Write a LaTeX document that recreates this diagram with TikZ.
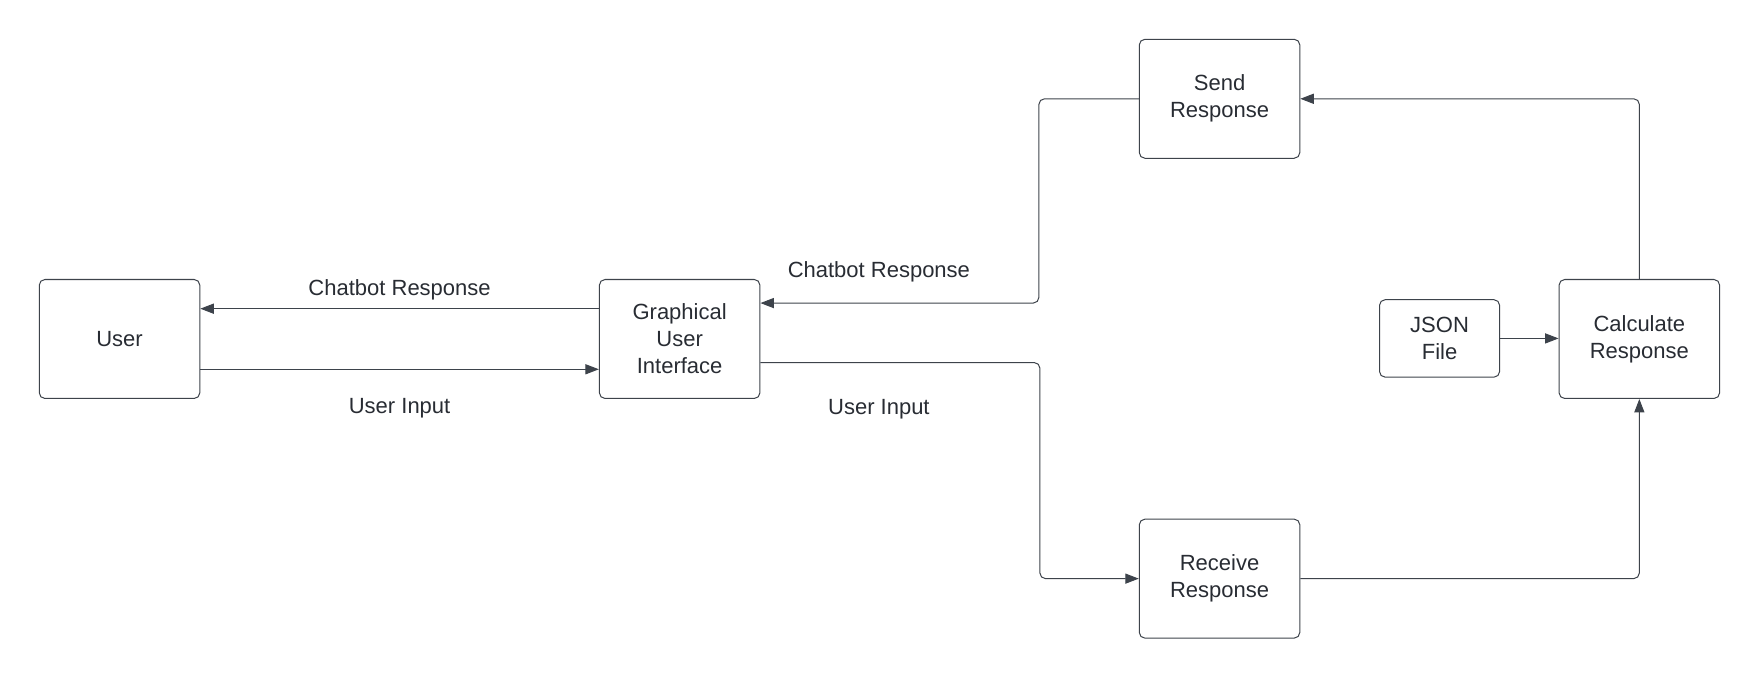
\documentclass[tikz,border=0pt]{standalone}
\usepackage{fontspec}
\setmainfont{Liberation Sans}
\usetikzlibrary{arrows.meta}
\definecolor{linegray}{HTML}{3D434B}
\definecolor{textgray}{HTML}{282C33}
\begin{document}
\begin{tikzpicture}[x=1pt,y=-1pt,
    box/.style={draw=linegray,line width=0.9pt,rounded corners=5pt,
        minimum width=143pt,minimum height=106pt,align=center,
        text=textgray,font=\fontsize{19.6}{24}\selectfont},
    smallbox/.style={box,minimum width=107pt,minimum height=69pt},
    lbl/.style={text=textgray,font=\fontsize{19.6}{24}\selectfont},
    conn/.style={draw=linegray,line width=0.9pt,rounded corners=5pt,
        -{Triangle[length=12pt,width=9pt]}}]
    \useasboundingbox (0,0) rectangle (1568,605.8);
    %% Boxes
    \node[box] (user) at (106.5,302) {User};
    \node[box] (gui) at (605.5,302) {Graphical\\User\\Interface};
    \node[box] (send) at (1086.5,88) {Send\\Response};
    \node[box] (recv) at (1086.5,515.5) {Receive\\Response};
    \node[smallbox] (json) at (1282.5,301.5) {JSON\\File};
    \node[box] (calc) at (1460.5,302) {Calculate\\Response};
    %% User and interface
    \draw[conn] ([yshift=27pt]gui.west) -- ([yshift=27pt]user.east);
    \draw[conn] ([yshift=-27pt]user.east) -- ([yshift=-27pt]gui.west);
    \node[lbl] (cbleft) at (356,258) {Chatbot Response};
    \node[lbl] (uileft) at (356,364) {User Input};
    %% Interface and chatbot
    \draw[conn] (send.west) -- ++(-89,0) |- ([yshift=32pt]gui.east);
    \draw[conn] ([yshift=-21pt]gui.east) -- ++(249,0) |- (recv.west);
    \node[lbl] (cbright) at (783,242) {Chatbot Response};
    \node[lbl] (uiright) at (783,365) {User Input};
    %% Chatbot loop
    \draw[conn] (recv.east) -| (calc.south);
    \draw[conn] (calc.north) |- (send.east);
    \draw[conn] (json.east) -- (json.east -| calc.west);
\end{tikzpicture}
\end{document}
